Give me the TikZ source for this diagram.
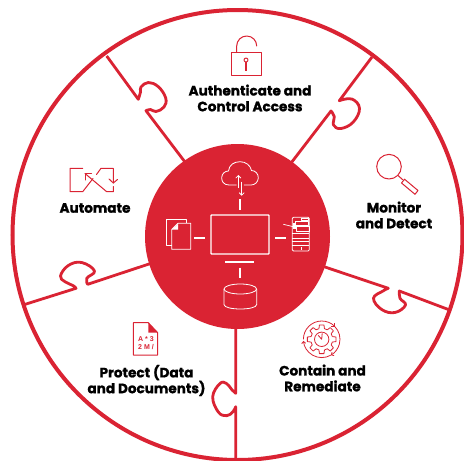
\documentclass[tikz,border=0pt]{standalone}
\usepackage{fontspec}
\setmainfont{Poppins}[BoldFeatures={FakeBold=1.2}]
\newfontfamily\iconfont{Liberation Sans}
\usetikzlibrary{arrows.meta}
\definecolor{brand}{HTML}{DA2333}
\tikzset{
  ringline/.style={draw=brand,line width=4pt},
  spoke/.style={draw=brand,line width=2.8pt,line join=round},
  label/.style={font=\fontsize{13.6}{15.8}\selectfont\bfseries,align=center,text=black,inner sep=0pt},
  iconred/.style={draw=brand,line width=1pt,line join=round,line cap=round},
  iconwhite/.style={draw=white,line width=.8pt,line join=round},
  link/.style={draw=white,line width=2.2pt},
  tinyarrow/.style={-{Straight Barb[length=2.5pt,width=5pt]}},
  gearline/.style={draw=brand,line width=.8pt,line join=round},
  geararc/.style={gearline,-{Straight Barb[length=2pt,width=4pt]}},
  tinychar/.style={text=brand,inner sep=0pt,font=\iconfont\bfseries\fontsize{7}{7}\selectfont},
}
\begin{document}
\begin{tikzpicture}[x=1pt,y=-1pt]
\useasboundingbox (0,0) rectangle (464,461);
\fill[white] (0,0) rectangle (464,461);
\coordinate (c) at (237.5,235);
% spoke ends
\coordinate (tlO) at (106.7,56);
\coordinate (tlI) at (188,166);
\coordinate (trO) at (372,57);
\coordinate (trI) at (288,167);
\coordinate (brI) at (322,266);
\coordinate (brO) at (451,310.5);
\coordinate (bI) at (235.7,322);
\coordinate (bO) at (235.7,459);
\coordinate (blO) at (23,305);
\coordinate (blI) at (152,263);
% spokes with puzzle knobs
\draw[spoke] (tlO) -- (138.3,99.3) -- plot[smooth,tension=.7] coordinates {(138.3,99.3) (140.5,92) (141,87) (148.3,82.5) (158.3,86.7) (165.7,98) (164,107) (156,111.5) (150.5,109.5) (146,110.7)} -- (tlI);
\draw[spoke] (trO) -- (339.3,100.7) -- plot[smooth,tension=.7] coordinates {(339.3,100.7) (351.7,99) (359.5,108.3) (353.3,122) (341,128.5) (333.5,125) (334.3,116.7) (331,111)} -- (trI);
\draw[spoke] (brI) -- (388.3,288.3) -- plot[smooth,tension=.7] coordinates {(388.3,288.3) (383,291) (373.5,298.3) (381.7,309.5) (395,312.5) (405.5,305) (400,298.3) (399.3,291)} -- (brO);
\draw[spoke] (bI) -- (235.7,393.3) -- plot[smooth,tension=.7] coordinates {(235.7,393.3) (231.7,389.5) (226.5,383.5) (220,383.5) (212.7,396.7) (218.3,412) (226.7,415.7) (233,411.7) (235.7,406.7)} -- (bO);
\draw[spoke] (blO) -- (76,288.3) -- plot[smooth,tension=.7] coordinates {(76,288.3) (73.3,285.7) (65,281.7) (60.5,276) (68.3,265.5) (81.7,262.5) (94.5,271) (86.7,278.3) (87.7,284.3)} -- (blI);
% ring and hub
\draw[ringline] (c) circle[radius=225pt];
\fill[brand] (237.5,236.5) circle[radius=92.5pt];
% hub icons
\draw[iconwhite,line width=1.3pt,rounded corners=.6pt] (211,215) rectangle (269,254);
\draw[link] (225,261.7) -- (254,261.7);
\draw[link] (240.3,267.7) -- (240.3,277.7);
\draw[link] (275,238) -- (285.7,238);
\draw[link] (194.3,238) -- (205,238);
\draw[link] (240.3,199.3) -- (240.3,210);
% cloud
\draw[iconwhite] (236.5,185) -- (229,185) .. controls (223.5,185) and (221.5,181) .. (221.7,177.5) .. controls (222,173.5) and (225,171) .. (228.5,171) .. controls (229,165) and (234,161.7) .. (240,161.7) .. controls (246,161.7) and (250.5,165.5) .. (251.5,170.5) .. controls (255.5,170.5) and (258.5,174) .. (258.3,178) .. controls (258,182) and (255,185) .. (251,185) -- (243.8,185);
\draw[iconwhite,tinyarrow] (238.3,188) -- (238.3,175);
\draw[iconwhite,tinyarrow] (241.7,181.7) -- (241.7,195.7);
% cylinder
\draw[iconwhite] (224,289) -- (224,304.5) .. controls (224,310.5) and (256.7,310.5) .. (256.7,304.5) -- (256.7,289);
\draw[iconwhite] (240.3,289) ellipse[x radius=16.3pt,y radius=5pt];
% documents
\draw[iconwhite] (171.5,245) -- (166.7,245) -- (166.7,219.3) -- (186,219.3) -- (186,223.3);
\draw[iconwhite] (178,223.3) -- (190.7,223.3) -- (190.7,249.3) -- (171.7,249.3) -- (171.7,229.5) -- cycle;
\fill[white] (178,223.8) -- (178,229.5) -- (172.2,229.5) -- cycle;
% printer
\draw[iconwhite,rounded corners=1.2pt] (292.3,217.3) rectangle (309.3,251);
\draw[iconwhite,line width=.7pt] (292.3,233.3) -- (309.3,233.3) (292.3,238.3) -- (309.3,238.3) (292.3,241.7) -- (309.3,241.7) (292.3,245.7) -- (309.3,245.7) (301,247) -- (301,250);
\draw[iconwhite,line width=.7pt] (295.7,221.7) rectangle (308.3,225.7) (296.7,226.7) rectangle (309,231) (301.7,218.3) rectangle (308.3,220.7);
\fill[white] (293.3,223.3) rectangle (295.7,229.3);
\draw[iconwhite,line width=.7pt] (283.3,224.3) -- (293.3,226.7);
% lock
\draw[iconred] (231.7,52.3) rectangle (261.7,75);
\draw[iconred] (236.7,52.3) -- (236.7,46) arc[start angle=180,end angle=0,radius=10pt];
\draw[iconred,line width=1pt] (246,60) circle[radius=2pt];
\draw[brand,line width=1.6pt] (246,62) -- (246,70.5);
\node[label] (auth) at (250,98) {Authenticate and\\Control Access};
% magnifier
\draw[iconred] (389,166.7) circle[radius=12.3pt];
\draw[iconred] (398,175.5) -- (402.5,179.5);
\draw[iconred] (401.5,183) -- (404.5,179.2) -- (418,190.5) -- (415,194.3) -- cycle;
\node[label] (mon) at (394,215) {Monitor\\and Detect};
% gear and clock
\begin{scope}[shift={(321.7,339.3)}]
\draw[geararc] (-180:18.3) arc[start angle=180,end angle=45,radius=18.3pt];
\draw[geararc] (-45:18.3) arc[start angle=45,end angle=-60,radius=18.3pt];
\draw[geararc] (60:18.3) arc[start angle=-60,end angle=-175,radius=18.3pt];
\foreach \a in {0,45,...,315}{
  \draw[gearline] (\a-14.5:11) -- (\a-9:14.5) -- (\a+9:14.5) -- (\a+14.5:11) -- (\a+30.5:11);
}
\draw[gearline] (0,0) circle[radius=7.2pt];
\draw[gearline] (-3.5,-4) -- (0,0) -- (0.5,-6);
\end{scope}
\node[label] (cont) at (322.5,378) {Contain and\\Remediate};
% document with characters
\draw[iconred] (148.3,322.7) -- (133.3,322.7) -- (133.3,355) -- (157.7,355) -- (157.7,332.7) -- cycle;
\fill[brand] (148.3,322.7) -- (157.7,332.7) -- (148.3,332.7) -- cycle;
\node[tinychar] (ch1) at (146,339) {A * 3};
\node[tinychar] (ch2) at (146,346.7) {2 M /};
\node[label] (prot) at (146.5,380.5) {Protect (Data\\and Documents)};
% automate arrows
\draw[iconred] (82.7,168.3) -- (70,168.3) -- (70,191.7) -- (82.7,191.7) -- (93,178.5);
\draw[iconred] (96.5,174.5) -- (101,168.3) -- (113.3,168.3) -- (113.3,183);
\draw[iconred] (109,179) -- (113.3,183) -- (117.5,179.5);
\draw[iconred] (113.3,186.5) -- (113.3,191.7) -- (106.7,191.7) -- (85,173.5);
\draw[iconred] (85,180) -- (85,173.5) -- (91.5,173.5);
\node[label] (auto) at (95,208) {Automate};
\end{tikzpicture}
\end{document}
